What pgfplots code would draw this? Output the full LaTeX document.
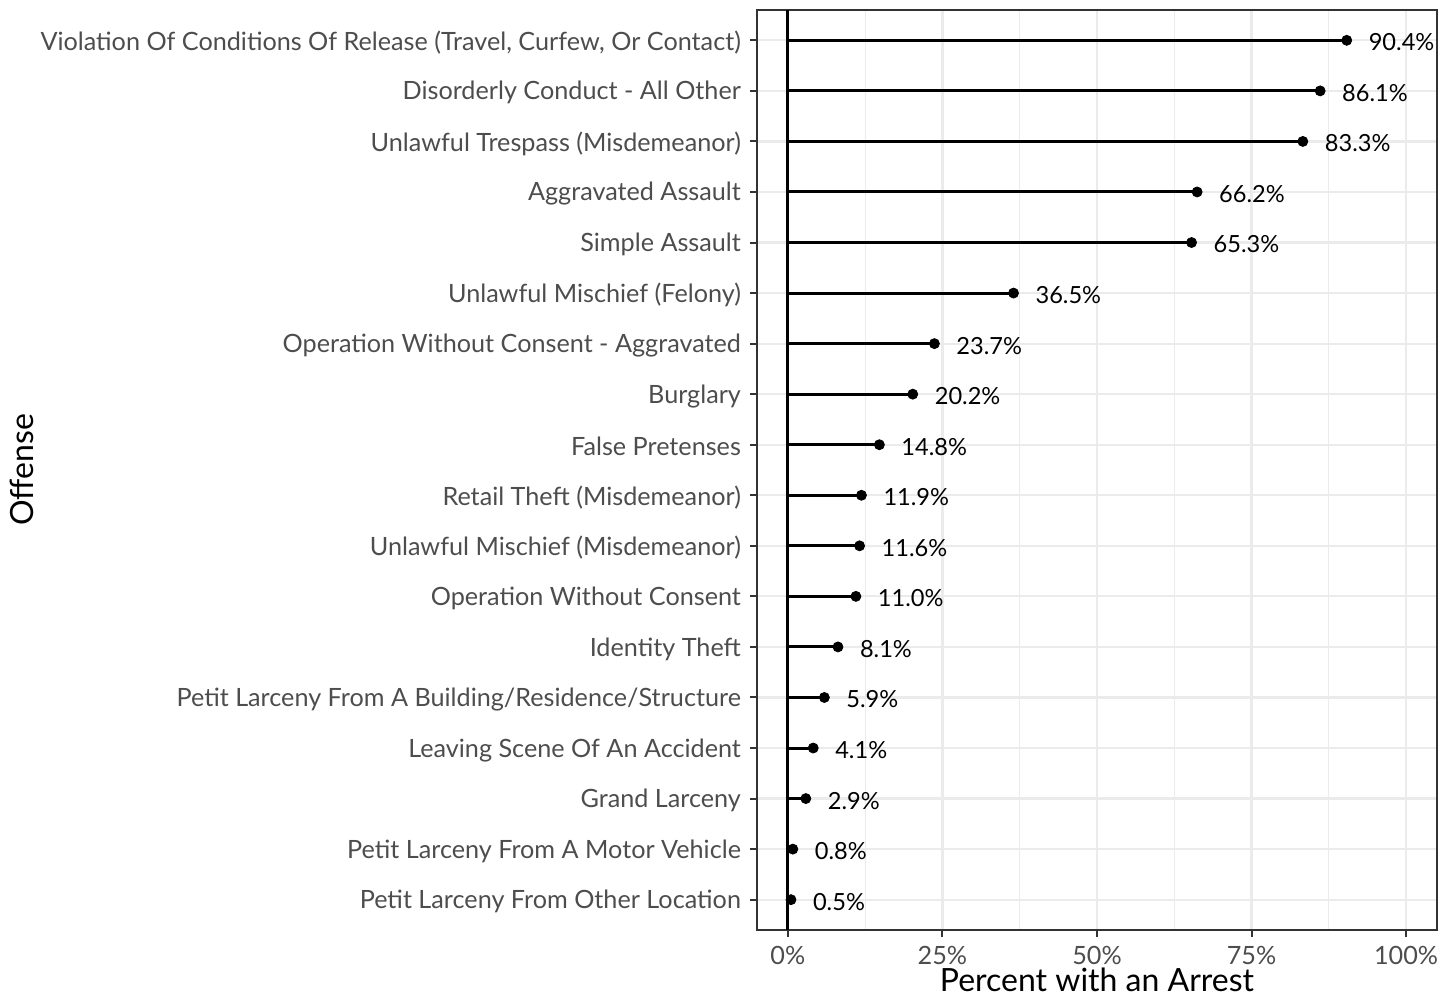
\documentclass[border=0pt]{standalone}
\usepackage{fontspec}
\setmainfont{Lato}
\usepackage{pgfplots}
\pgfplotsset{compat=1.18}
\definecolor{gridgray}{HTML}{EBEBEB}
\definecolor{framegray}{HTML}{333333}
\definecolor{ticktext}{HTML}{4D4D4D}

\pgfplotstableread{
y val
18 90.4
17 86.1
16 83.3
15 66.2
14 65.3
13 36.5
12 23.7
11 20.2
10 14.8
9 11.9
8 11.6
7 11.0
6 8.1
5 5.9
4 4.1
3 2.9
2 0.8
1 0.5
}\arrests

\begin{document}
\begin{tikzpicture}
\begin{axis}[
    scale only axis,
    width=340pt, height=460pt,
    xmin=-5, xmax=105,
    ymin=0.4, ymax=18.6,
    xtick={0,25,50,75,100},
    xticklabels={0\%,25\%,50\%,75\%,100\%},
    minor xtick={12.5,37.5,62.5,87.5},
    ytick={1,...,18},
    yticklabels={
      Petit Larceny From Other Location,
      Petit Larceny From A Motor Vehicle,
      Grand Larceny,
      Leaving Scene Of An Accident,
      Petit Larceny From A Building/Residence/Structure,
      Identity Theft,
      Operation Without Consent,
      Unlawful Mischief (Misdemeanor),
      Retail Theft (Misdemeanor),
      False Pretenses,
      Burglary,
      Operation Without Consent - Aggravated,
      Unlawful Mischief (Felony),
      Simple Assault,
      Aggravated Assault,
      Unlawful Trespass (Misdemeanor),
      Disorderly Conduct - All Other,
      {Violation Of Conditions Of Release (Travel, Curfew, Or Contact)}
    },
    xmajorgrids, ymajorgrids, xminorgrids,
    major grid style={gridgray, line width=1.1pt},
    minor grid style={gridgray, line width=0.55pt},
    axis line style={framegray, line width=1pt},
    tick style={framegray, line width=1pt},
    tick align=outside,
    major tick length=3.5pt,
    minor tick length=0pt,
    xtick pos=bottom, ytick pos=left,
    ticklabel style={font=\fontsize{12.6}{14}\selectfont, text=ticktext},
    xticklabel style={yshift=-1pt},
    yticklabel style={xshift=-1pt, yshift=-1pt},
    xlabel={Percent with an Arrest},
    ylabel={Offense},
    label style={font=\fontsize{16}{18}\selectfont},
    xlabel style={yshift=5pt},
    ylabel style={yshift=-3.5pt},
    clip=false,
]
\addplot[black, line width=1.5pt, xcomb] table[x=val, y=y] {\arrests};
\draw[black, line width=1.5pt] (axis cs:0,0.4) -- (axis cs:0,18.6);
\addplot[only marks, mark=*, mark size=2.5pt, black,
    point meta=x,
    nodes near coords={\pgfmathprintnumber[fixed,fixed zerofill,precision=1,assume math mode=true]{\pgfplotspointmeta}\%},
    nodes near coords style={anchor=west, xshift=7.5pt, yshift=-1pt, font=\fontsize{11.8}{14}\selectfont, text=black}
  ] table[x=val, y=y] {\arrests};
\end{axis}
\pgfresetboundingbox
\path ([shift={(-378.5pt,-33pt)}]current axis.south west) rectangle ([shift={(7pt,5pt)}]current axis.north east);
\end{tikzpicture}
\end{document}
